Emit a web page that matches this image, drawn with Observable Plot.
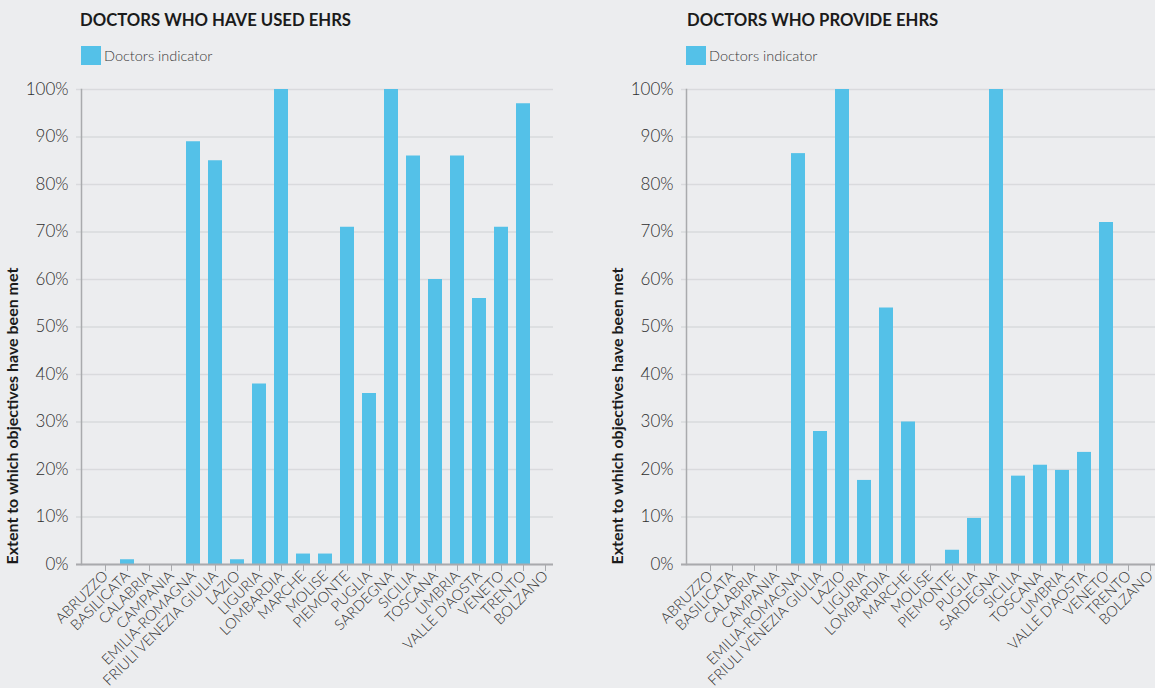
<!DOCTYPE html>
<html><head><meta charset="utf-8">
<script src="https://cdn.jsdelivr.net/npm/d3@7"></script>
<script src="https://cdn.jsdelivr.net/npm/@observablehq/plot@0.6"></script>
<style>
body{margin:0;background:#ecedef;font-family:Lato,sans-serif;width:1155px;height:688px;overflow:hidden;position:relative}
.panel{position:absolute;top:0;height:688px}
.title{position:absolute;top:10px;font-weight:700;font-size:16.7px;color:#1b1b1b;white-space:nowrap}
.legend{position:absolute;top:46px;display:flex;align-items:center;font-size:14.5px;font-weight:300;color:#3a3a3a;white-space:nowrap}
.sw{width:20px;height:19px;background:#54c1e8;margin-right:3px}
.chart{position:absolute;top:70px;left:0}
</style></head><body>
<div id="left" class="panel" style="left:0;width:560px"></div>
<div id="right" class="panel" style="left:605px;width:550px"></div>
<script>
const regions = ["ABRUZZO","BASILICATA","CALABRIA","CAMPANIA","EMILIA-ROMAGNA","FRIULI VENEZIA GIULIA","LAZIO","LIGURIA","LOMBARDIA","MARCHE","MOLISE","PIEMONTE","PUGLIA","SARDEGNA","SICILIA","TOSCANA","UMBRIA","VALLE D'AOSTA","VENETO","TRENTO","BOLZANO"];
const usedValues = [0,1,0,0,89,85,1,38,100,2.2,2.2,71,36,100,86,60,86,56,71,97,0];
const provideValues = [0,0,0,0,86.5,28,100,17.7,54,30,0,3,9.7,100,18.6,20.9,19.8,23.6,72,0,0];
const yTicks = [0,10,20,30,40,50,60,70,80,90,100];
const titles = ["DOCTORS WHO HAVE USED EHRS","DOCTORS WHO PROVIDE EHRS"];
const legendLabel = "Doctors indicator";
const yLabel = "Extent to which objectives have been met";

function chart(values, width, range, marginRight) {
  const data = regions.map((r, i) => ({region: r, value: values[i]}));
  return Plot.plot({
    width, height: 618, marginLeft: 81, marginRight, marginTop: 19, marginBottom: 124,
    style: {background: "transparent", fontFamily: "Lato, sans-serif", overflow: "visible"},
    x: {domain: regions, range, padding: 0.38},
    y: {domain: [0, 100]},
    marks: [
      Plot.ruleY(yTicks, {stroke: "#d9dadd", strokeWidth: 1.5, insetLeft: -5}),
      Plot.barY(data, {x: "region", y: "value", fill: "#54c1e8"}),
      Plot.frame({anchor: "left", stroke: "#a9aaad", strokeWidth: 1.5}),
      Plot.ruleY([0], {stroke: "#a9aaad", strokeWidth: 2, insetLeft: -5}),
      Plot.axisX({tickRotate: -45, tickSize: 7, tickPadding: 2, stroke: "#a9aaad", fill: "#2e2e2e", fontSize: 14.6, fontWeight: 300, label: null}),
      Plot.axisY({ticks: yTicks, tickSize: 0, tickPadding: 13, tickFormat: d => d + "%", fontSize: 17, fontWeight: 300, fill: "#2e2e2e", label: null}),
      Plot.text([yLabel], {frameAnchor: "bottom-left", text: d => d, rotate: -90, textAnchor: "start", dx: -64, fontWeight: 700, fontSize: 16, fill: "#1b1b1b"})
    ]
  });
}

function panel(id, title, values, width, range, marginRight, titleLeft) {
  const el = document.getElementById(id);
  const t = document.createElement("div");
  t.className = "title"; t.style.left = titleLeft + "px"; t.textContent = title;
  el.appendChild(t);
  const lg = document.createElement("div");
  lg.className = "legend"; lg.style.left = "81px";
  lg.innerHTML = '<div class="sw"></div><span></span>';
  lg.querySelector("span").textContent = legendLabel;
  el.appendChild(lg);
  const c = chart(values, width, range, marginRight);
  c.classList.add("chart");
  el.appendChild(c);
}

panel("left", titles[0], usedValues, 560, [83.7, 565.6], 7, 80);
panel("right", titles[1], provideValues, 550, [84.2, 565.0], 0, 82);
</script>
</body></html>
